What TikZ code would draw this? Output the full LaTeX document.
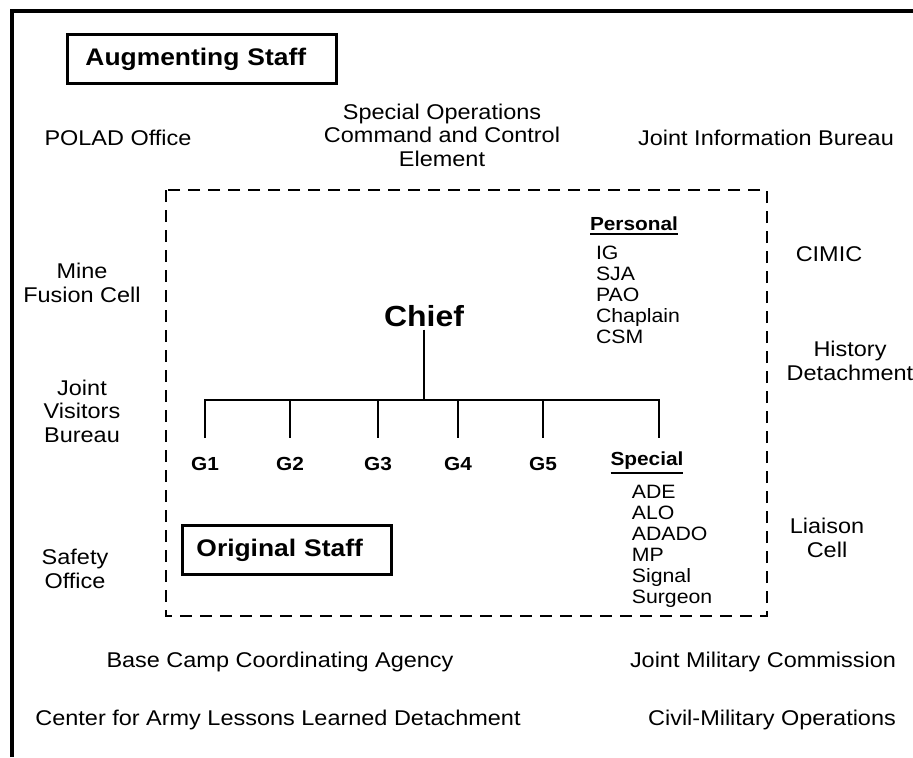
\documentclass[tikz,border=0pt]{standalone}
\usepackage{fontspec}
\setmainfont[FakeStretch=1.1]{Liberation Sans}
\usetikzlibrary{positioning}
\newcommand{\headline}[1]{\setbox0\hbox{#1}\vtop{\copy0\kern1.5pt\hrule height 1.4pt width \wd0}}

\begin{document}
\begin{tikzpicture}[
    x=0.75pt, y=-0.75pt,
    every node/.style={inner sep=0pt},
    office/.style={align=center, font={\fontsize{16}{17.6}\selectfont}},
    staffbox/.style={draw, line width=2.2pt, minimum height=37pt, anchor=north west, align=left, font={\fontsize{18}{20}\selectfont\bfseries}},
    chiefnode/.style={inner sep=2pt, font={\fontsize{21.8}{24}\selectfont\bfseries}},
    gnode/.style={font={\fontsize{14.2}{15.75}\selectfont\bfseries}},
    roster/.style={align=left, font={\fontsize{14.5}{15.75}\selectfont}},
    tree/.style={line width=1.8pt},
    outerframe/.style={line width=3pt},
    dashframe/.style={line width=2pt, dash pattern=on 9pt off 6pt}
  ]
  \useasboundingbox (0,0) rectangle (913,757);

  % frames
  \draw[outerframe] (12,757) -- (12,11) -- (913,11);
  \draw[dashframe] (166,190) rectangle (767,616);

  \node[staffbox, inner xsep=13.5pt, text width=175pt] (augmenting) at (66,33) {Augmenting Staff};
  \node[staffbox, inner xsep=10.5pt, text width=136pt] (original) at (181,524) {Original Staff};

  % augmenting staff
  \node[office] (polad) at (118,138) {POLAD Office};
  \node[office] (soc) at (442,135) {Special Operations\\Command and Control\\Element};
  \node[office] (jib) at (766,138) {Joint Information Bureau};
  \node[office] (mine) at (82,283) {Mine\\Fusion Cell};
  \node[office] (jvb) at (82,411) {Joint\\Visitors\\Bureau};
  \node[office] (safety) at (75,569) {Safety\\Office};
  \node[office] (cimic) at (829,254) {CIMIC};
  \node[office] (history) at (850,361) {History\\Detachment};
  \node[office] (liaison) at (827,538) {Liaison\\Cell};
  \node[office] (bcca) at (280,662) {Base Camp Coordinating Agency};
  \node[office] (jmc) at (763,662) {Joint Military Commission};
  \node[office] (call) at (278,720) {Center for Army Lessons Learned Detachment};
  \node[office] (cmo) at (772,720) {Civil-Military Operations};

  % original staff
  \node[chiefnode] (chief) at (424,316) {Chief};
  \coordinate (bar) at (424,400);
  \foreach \n/\x in {1/205,2/290,3/378,4/458,5/543} {
    \node[gnode] (g\n) at (\x,464) {G\n};
    \coordinate (drop\n) at (\x,438);
  }
  \coordinate (drop6) at (659,438);

  \node[gnode] (personal) at (634,226) {\headline{Personal}};
  \node[roster, below right=8pt and 4.5pt of personal.south west] (personallist) {IG\\SJA\\PAO\\Chaplain\\CSM};

  \node[gnode] (special) at (647,463) {\headline{Special}};
  \node[roster, below right=8pt and 16pt of special.south west] (speciallist) {ADE\\ALO\\ADADO\\MP\\Signal\\Surgeon};

  \draw[tree] (chief) -- (bar);
  \draw[tree] (drop1) -- (drop1 |- bar) -- (drop6 |- bar) -- (drop6);
  \foreach \n in {2,...,5} \draw[tree] (drop\n |- bar) -- (drop\n);
\end{tikzpicture}
\end{document}
